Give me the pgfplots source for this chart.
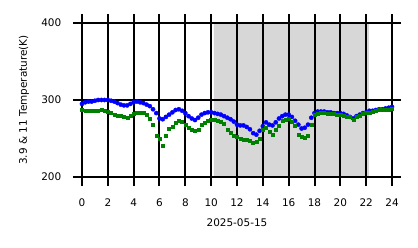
\documentclass[border=0pt]{standalone}
\usepackage{fontspec}
\setmainfont{DejaVu Sans}
\usepackage{pgfplots}
\pgfplotsset{compat=1.18}
\usepackage{pgfplotstable}
\definecolor{shade}{RGB}{215,215,215}
\definecolor{mgreen}{RGB}{0,128,0}
\definecolor{mblue}{RGB}{0,0,255}
\pgfplotstableread{
t B G
0.00 295 288
0.25 297 286
0.50 298 286
0.75 298 286
1.00 299 286
1.25 300 286
1.50 300 287
1.75 300 286
2.00 300 285
2.25 299 283
2.50 298 281
2.75 296 280
3.00 294 279
3.25 293 278
3.50 293 277
3.75 295 279
4.00 297 282
4.25 298 284
4.50 297 284
4.75 296 283
5.00 294 281
5.25 292 276
5.50 288 268
5.75 283 254
6.00 276 250
6.25 275 241
6.50 278 253
6.75 281 263
7.00 284 265
7.25 287 270
7.50 288 273
7.75 286 272
8.00 283 268
8.25 279 264
8.50 276 262
8.75 274 260
9.00 277 262
9.25 281 268
9.50 283 271
9.75 284 273
10.00 284 275
10.25 283 274
10.50 282 273
10.75 281 272
11.00 279 269
11.25 277 262
11.50 275 258
11.75 272 254
12.00 268 252
12.25 267 250
12.50 267 249
12.75 265 249
13.00 262 247
13.25 257 245
13.50 255 246
13.75 260 250
14.00 266 262
14.25 271 264
14.50 268 259
14.75 267 255
15.00 271 261
15.25 276 267
15.50 279 273
15.75 281 275
16.00 281 276
16.25 278 272
16.50 273 266
16.75 268 255
17.00 263 252
17.25 264 251
17.50 268 253
17.75 277 268
18.00 283 281
18.25 285 282
18.50 285 283
18.75 285 283
19.00 284 282
19.25 284 282
19.50 283 282
19.75 283 281
20.00 283 281
20.25 282 280
20.50 280 278
20.75 278 278
21.00 276 275
21.25 279 278
21.50 281 280
21.75 283 282
22.00 284 283
22.25 286 284
22.50 286 285
22.75 287 286
23.00 288 287
23.25 288 287
23.50 289 288
23.75 290 288
24.00 291 289
}\datatable
\begin{document}
\fontsize{10.5}{12.6}\selectfont
\begin{tikzpicture}
\begin{axis}[
  scale only axis, width=310bp, height=154bp,
  xmin=0, xmax=24, ymin=200, ymax=400,
  xtick={0,2,...,24}, ytick={200,300,400},
  grid=major,
  major grid style={black, line width=2bp},
  axis line style={black, line width=2bp},
  tick style={black, line width=2bp},
  tick align=outside, major tick length=9bp,
  axis on top,
  xlabel={2025-05-15},
  ylabel={3.9 \& 11 Temperature(K)},
  /pgf/number format/assume math mode=true,
  ticklabel style={font=\fontsize{10.5}{12.6}\selectfont},
  label style={font=\fontsize{10.5}{12.6}\selectfont},
  xticklabel style={yshift=-9bp},
  yticklabel style={xshift=-8bp},
  every axis x label/.style={at={(axis description cs:0.5,-0.299)}, anchor=center},
  every axis y label/.style={at={(axis description cs:-0.187,0.5)}, rotate=90, anchor=center},
]
\addplot[fill=shade, draw=none] coordinates {(10.2,200) (22.2,200) (22.2,400) (10.2,400)} \closedcycle;
\addplot[only marks, mark=*, mark size=2.1bp, color=mblue] table[x=t, y=B] {\datatable};
\addplot[only marks, mark=square*, mark size=1.5bp, color=mgreen] table[x=t, y=G] {\datatable};
\end{axis}
\path (-82bp,-71bp) rectangle (336bp,177bp);
\end{tikzpicture}
\end{document}
